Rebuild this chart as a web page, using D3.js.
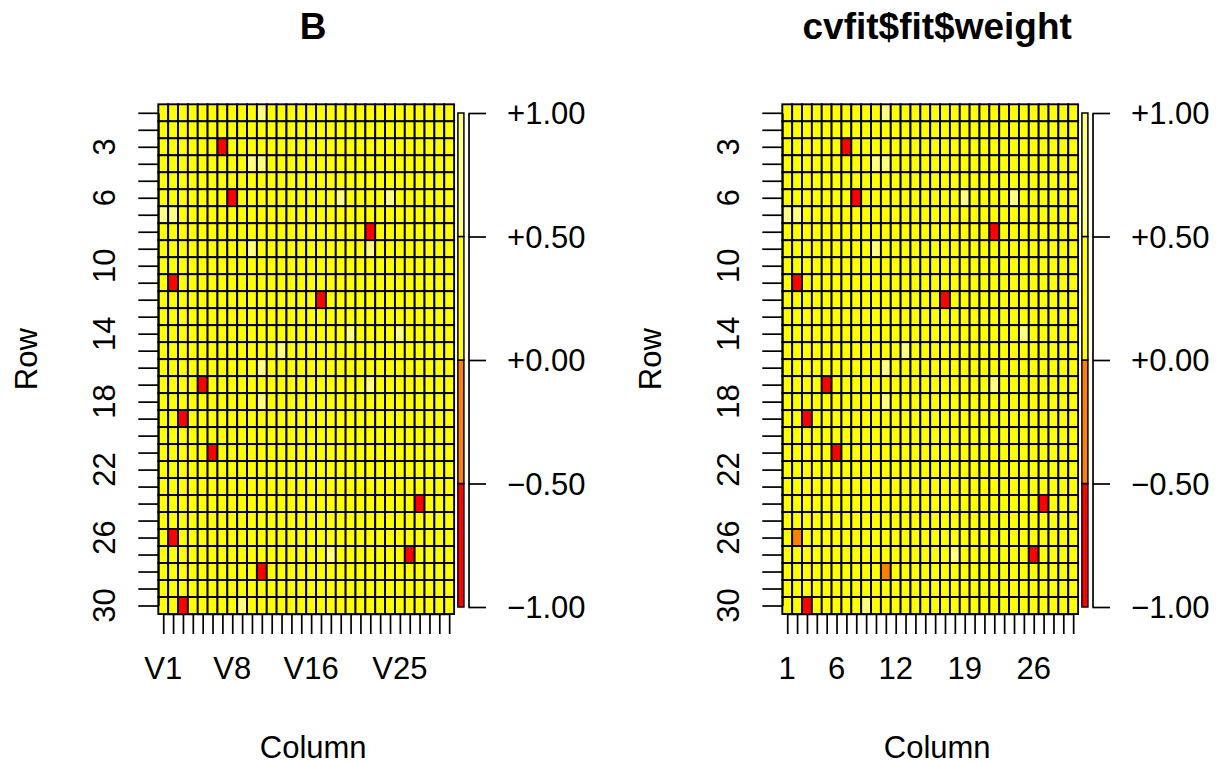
<!DOCTYPE html>
<html><head><meta charset="utf-8">
<script src="https://cdn.jsdelivr.net/npm/d3@7"></script>
<style>
body{margin:0;background:#fff}
text{font-family:"Liberation Sans",Arial,Helvetica,sans-serif;fill:#000}
</style>
</head><body>
<svg id="c" width="1217" height="764"></svg>
<script>
// ---- data ----
const rowIds = d3.range(1, 31);          // matrix rows 1..30
const colIds = d3.range(1, 31);          // matrix columns 1..30

// Matrix B: non-zero cells as [row, col]; all other cells are 0
const bRed   = [[3,7],[6,8],[8,22],[11,2],[12,17],[17,5],[19,3],[21,6],[24,27],[26,2],[27,26],[28,11],[30,3]];
const bLight = [[1,11],[4,10],[4,11],[6,19],[6,24],[7,1],[7,2],[9,10],[9,22],[14,20],[14,25],[15,13],[16,11],[17,22],[18,11],[27,18],[30,9]];
const bRedValue = -0.9, bLightValue = 0.7;

// cvfit$fit$weight: non-zero cells
const wRed    = [[3,7],[6,8],[8,22],[11,2],[12,17],[17,5],[19,3],[21,6],[24,27],[27,26],[30,3]];
const wOrange = [[26,2],[28,11]];
const wLight  = [[1,11],[4,10],[4,11],[6,19],[6,24],[7,1],[7,2],[9,10],[14,25],[15,13],[16,11],[17,22],[18,11],[27,18],[30,9]];
const wRedValue = -0.9, wOrangeValue = -0.3, wLightValue = 0.7;

// tick labels
const rowTickLabels = [3, 6, 10, 14, 18, 22, 26, 30];
const colTickPosB = [1, 8, 16, 25];
const colTickLabelsB = ["V1", "V8", "V16", "V25"];
const colTickPosW = [1, 6, 12, 19, 26];
const colTickLabelsW = ["1", "6", "12", "19", "26"];

// legend
const legendBreaks = [-1, -0.5, 0, 0.5, 1];
const legendColors = ["#FF0000", "#FF8000", "#FFFF00", "#FFFF80"];
const legendLabels = ["\u22121.00", "\u22120.50", "+0.00", "+0.50", "+1.00"];

const titles = ["B", "cvfit$fit$weight"];

// ---- build matrices ----
function buildMatrix(groups) {
  const m = {};
  rowIds.forEach(r => colIds.forEach(c => { m[r + "_" + c] = 0; }));
  groups.forEach(([cells, v]) => cells.forEach(([r, c]) => { m[r + "_" + c] = v; }));
  return m;
}
const matB = buildMatrix([[bRed, bRedValue], [bLight, bLightValue]]);
const matW = buildMatrix([[wRed, wRedValue], [wOrange, wOrangeValue], [wLight, wLightValue]]);

const color = d3.scaleThreshold().domain(legendBreaks.slice(1, -1)).range(legendColors);

// ---- draw ----
const svg = d3.select("#c");
const gridTop = 104.3, gridBottom = 614, gridW = 295.8;
const FS = 31;
const legendY = d3.scaleLinear().domain([-1, 1]).range([607, 113]);

const panels = [
  {x0: 158.3, mat: matB, title: titles[0], tickPos: colTickPosB, tickLab: colTickLabelsB},
  {x0: 782.3, mat: matW, title: titles[1], tickPos: colTickPosW, tickLab: colTickLabelsW}
];

panels.forEach(p => {
  const g = svg.append("g");
  const x = d3.scaleBand().domain(colIds).range([p.x0, p.x0 + gridW]);
  const y = d3.scaleBand().domain(rowIds).range([gridTop, gridBottom]);
  const cx = p.x0 + gridW / 2 + 7;

  // cells
  const cells = [];
  rowIds.forEach(r => colIds.forEach(c => cells.push({r, c, v: p.mat[r + "_" + c]})));
  g.append("g").selectAll("rect").data(cells).join("rect")
    .attr("x", d => x(d.c)).attr("y", d => y(d.r))
    .attr("width", x.bandwidth()).attr("height", y.bandwidth())
    .attr("fill", d => color(d.v))
    .attr("stroke", "#000").attr("stroke-width", 1.9);

  // left axis (row ticks)
  const ya = g.append("g").attr("transform", `translate(${p.x0},0)`)
    .call(d3.axisLeft(d3.scalePoint().domain(rowIds).range([y(1) + y.bandwidth()/2, y(30) + y.bandwidth()/2]))
      .tickSize(20).tickSizeOuter(0).tickFormat(""));
  ya.selectAll("path,line").attr("stroke", "#000").attr("stroke-width", 1.7);
  g.append("g").selectAll("text").data(rowTickLabels).join("text")
    .attr("transform", d => `translate(${p.x0 - 43},${y(d) + y.bandwidth()/2}) rotate(-90)`)
    .attr("text-anchor", "middle").attr("font-size", FS)
    .text(d => d);

  // bottom axis (column ticks)
  const xa = g.append("g").attr("transform", `translate(0,${gridBottom})`)
    .call(d3.axisBottom(d3.scalePoint().domain(colIds).range([x(1) + x.bandwidth()/2, x(30) + x.bandwidth()/2]))
      .tickSize(20).tickSizeOuter(0).tickFormat(""));
  xa.selectAll("path,line").attr("stroke", "#000").attr("stroke-width", 1.7);
  g.append("g").selectAll("text").data(p.tickPos).join("text")
    .attr("x", d => x(d) + x.bandwidth()/2).attr("y", gridBottom + 65)
    .attr("text-anchor", "middle").attr("font-size", FS)
    .text((d, i) => p.tickLab[i]);

  // titles and axis labels
  g.append("text").attr("x", cx).attr("y", 39).attr("text-anchor", "middle")
    .attr("font-size", 37).attr("font-weight", "bold").text(p.title);
  g.append("text").attr("x", cx).attr("y", 758).attr("text-anchor", "middle")
    .attr("font-size", FS).text("Column");
  g.append("text").attr("transform", `translate(${p.x0 - 121},${(gridTop + gridBottom)/2}) rotate(-90)`)
    .attr("text-anchor", "middle").attr("font-size", FS).text("Row");

  // legend bar
  const lx = p.x0 + gridW + 3.8;
  const segs = legendColors.map((col, i) => ({col, lo: legendBreaks[i], hi: legendBreaks[i + 1]}));
  g.append("g").selectAll("rect").data(segs).join("rect")
    .attr("x", lx).attr("width", 6)
    .attr("y", d => legendY(d.hi)).attr("height", d => legendY(d.lo) - legendY(d.hi))
    .attr("fill", d => d.col).attr("stroke", "#000").attr("stroke-width", 1.5);

  const ax = p.x0 + gridW + 14.4;
  const la = g.append("g").attr("transform", `translate(${ax},0)`)
    .call(d3.axisRight(legendY).tickValues(legendBreaks).tickSize(17.5).tickSizeOuter(0).tickFormat(""));
  la.selectAll("path,line").attr("stroke", "#000").attr("stroke-width", 1.7);
  g.append("g").selectAll("text").data(legendBreaks).join("text")
    .attr("x", p.x0 + gridW + 53).attr("y", d => legendY(d))
    .attr("dy", "0.36em").attr("font-size", FS)
    .text((d, i) => legendLabels[i]);
});
</script>
</body></html>
